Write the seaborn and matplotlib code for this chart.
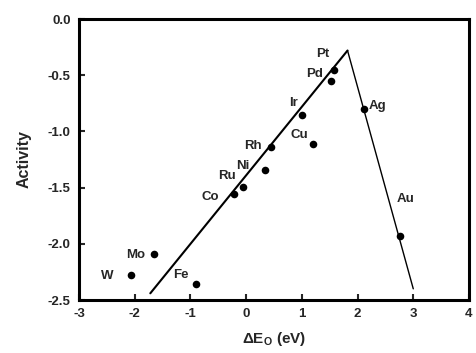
import pandas as pd
import matplotlib.pyplot as plt
import seaborn as sns

# metal data points (delta E_O vs activity)
metals = ['W', 'Mo', 'Fe', 'Co', 'Ru', 'Ni', 'Rh', 'Cu', 'Ir', 'Pd', 'Pt', 'Ag', 'Au']
delta_e = [-2.07, -1.65, -0.90, -0.22, -0.06, 0.33, 0.44, 1.20, 1.00, 1.53, 1.58, 2.12, 2.76]
activity = [-2.28, -2.09, -2.36, -1.56, -1.49, -1.34, -1.14, -1.11, -0.85, -0.55, -0.45, -0.80, -1.93]

# label anchor positions (data coords)
label_x = [-2.50, -1.98, -1.18, -0.64, -0.35, -0.06, 0.13, 0.95, 0.85, 1.23, 1.38, 2.35, 2.86]
label_y = [-2.29, -2.10, -2.28, -1.58, -1.40, -1.31, -1.13, -1.03, -0.75, -0.49, -0.31, -0.77, -1.60]

# volcano legs
left_x = [-1.72, 1.82]
left_y = [-2.44, -0.28]
right_x = [1.82, 3.00]
right_y = [-0.28, -2.40]


def setup_style():
    sns.set_theme(style="ticks")
    plt.rcParams.update({
        'font.family': ['Liberation Sans', 'DejaVu Sans'],
        'font.weight': 'bold',
        'axes.unicode_minus': False,
        'mathtext.fontset': 'custom',
        'mathtext.rm': 'Liberation Sans:bold',
        'mathtext.bf': 'Liberation Sans:bold',
        'mathtext.it': 'Liberation Sans:bold',
        'axes.linewidth': 2.2,
        'xtick.direction': 'in',
        'ytick.direction': 'in',
        'xtick.major.width': 1.5,
        'ytick.major.width': 1.5,
        'xtick.major.size': 4,
        'ytick.major.size': 4,
    })


def main():
    setup_style()
    df = pd.DataFrame({'metal': metals, 'dE': delta_e, 'act': activity})

    fig = plt.figure(figsize=(4.77, 3.53), dpi=100)
    ax = fig.add_axes([0.1656, 0.150, 0.8176, 0.796])

    sns.lineplot(x=left_x, y=left_y, ax=ax, color='black', linewidth=1.5)
    sns.lineplot(x=right_x, y=right_y, ax=ax, color='black', linewidth=1.0)
    sns.scatterplot(data=df, x='dE', y='act', ax=ax, color='black', s=30,
                    edgecolor='black', linewidth=0, zorder=3)

    for name, lx, ly in zip(metals, label_x, label_y):
        ax.text(lx, ly, name, fontsize=9.5, fontweight='bold',
                ha='center', va='center')

    ax.set_xlim(-3, 4)
    ax.set_ylim(-2.5, 0.0)
    ax.set_xticks([-3, -2, -1, 0, 1, 2, 3, 4])
    ax.set_xticklabels(['-3', '-2', '-1', '0', '1', '2', '3', '4'])
    ax.set_yticks([0.0, -0.5, -1.0, -1.5, -2.0, -2.5])
    ax.set_yticklabels(['0.0', '-0.5', '-1.0', '-1.5', '-2.0', '-2.5'])
    ax.tick_params(labelsize=9.5, pad=6)
    for lab in ax.get_xticklabels() + ax.get_yticklabels():
        lab.set_fontweight('bold')

    ax.set_xlabel(r'$\Delta$E$_\mathregular{O}$ (eV)', fontsize=11,
                  fontweight='bold', labelpad=7)
    ax.set_ylabel('Activity', fontsize=11.5, fontweight='bold', labelpad=12)

    for sp in ax.spines.values():
        sp.set_linewidth(2.2)
        sp.set_color('black')

    fig.savefig('out.png', dpi=100)
    plt.close(fig)


if __name__ == "__main__":
    main()
